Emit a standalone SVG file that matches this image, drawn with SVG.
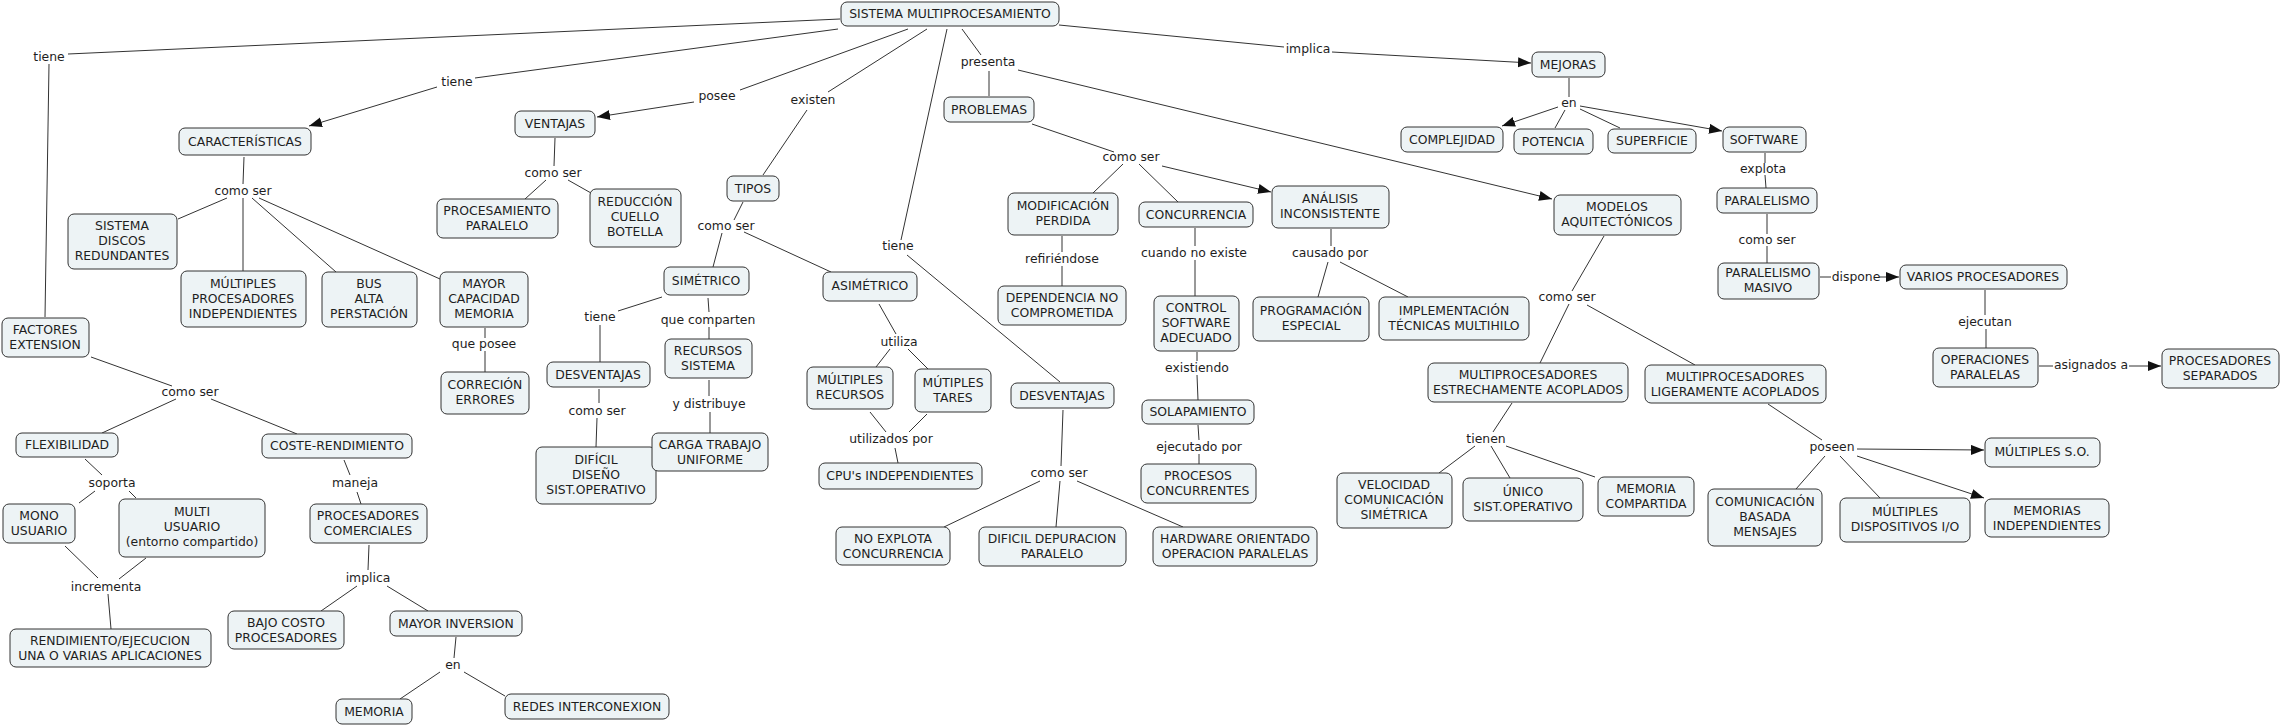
<svg xmlns="http://www.w3.org/2000/svg" width="2281" height="726" viewBox="0 0 2281 726">
<defs>
<style>
.n rect{fill:#edf3f5;stroke:#333;stroke-width:1}
text{font-family:"DejaVu Sans","Liberation Sans",sans-serif;font-size:12.4px;fill:#1e1e1e;text-anchor:middle}
#connectors line{stroke:#333;stroke-width:1;fill:none}
#connectors line.a{marker-end:url(#arr)}
</style>
<marker id="arr" markerUnits="userSpaceOnUse" markerWidth="14" markerHeight="12" refX="13" refY="5" orient="auto"><path d="M0,0 L13,5 L0,10 z" fill="#111"/></marker>
</defs>
<rect width="2281" height="726" fill="#fff"/>
<g id="connectors">
<line x1="68" y1="54" x2="840" y2="19"/>
<line x1="49" y1="64" x2="45" y2="317"/>
<line x1="475" y1="78" x2="838" y2="29"/>
<line class="a" x1="437" y1="87" x2="309" y2="126"/>
<line x1="908" y1="29" x2="740" y2="90"/>
<line class="a" x1="694" y1="102" x2="597" y2="117"/>
<line x1="927" y1="29" x2="828" y2="92"/>
<line x1="807" y1="110" x2="763" y2="175"/>
<line x1="947" y1="29" x2="901" y2="240"/>
<line x1="907" y1="255" x2="1060" y2="382"/>
<line x1="962" y1="29" x2="981" y2="55"/>
<line x1="989" y1="71" x2="989" y2="96"/>
<line class="a" x1="1018" y1="70" x2="1552" y2="199"/>
<line x1="1059" y1="25" x2="1284" y2="47"/>
<line class="a" x1="1332" y1="52" x2="1531" y2="63"/>
<line x1="1569" y1="78" x2="1569" y2="97"/>
<line class="a" x1="1558" y1="107" x2="1502" y2="126"/>
<line x1="1565" y1="110" x2="1555" y2="128"/>
<line x1="1580" y1="109" x2="1620" y2="128"/>
<line class="a" x1="1580" y1="106" x2="1722" y2="131"/>
<line x1="1765" y1="153" x2="1765" y2="163"/>
<line x1="1765" y1="175" x2="1766" y2="188"/>
<line x1="1767" y1="214" x2="1767" y2="234"/>
<line x1="1767" y1="246" x2="1767" y2="263"/>
<line x1="1820" y1="277" x2="1831" y2="277"/>
<line class="a" x1="1879" y1="277" x2="1899" y2="277"/>
<line x1="1985" y1="290" x2="1985" y2="315"/>
<line x1="1986" y1="329" x2="1986" y2="348"/>
<line x1="2039" y1="366" x2="2053" y2="366"/>
<line class="a" x1="2129" y1="366" x2="2161" y2="366"/>
<line x1="244" y1="157" x2="243" y2="184"/>
<line x1="227" y1="198" x2="178" y2="219"/>
<line x1="243" y1="198" x2="243" y2="271"/>
<line x1="252" y1="198" x2="336" y2="272"/>
<line x1="259" y1="198" x2="440" y2="279"/>
<line x1="555" y1="138" x2="554" y2="166"/>
<line x1="546" y1="180" x2="525" y2="199"/>
<line x1="568" y1="180" x2="591" y2="193"/>
<line x1="743" y1="202" x2="734" y2="220"/>
<line x1="722" y1="233" x2="713" y2="267"/>
<line x1="744" y1="232" x2="831" y2="272"/>
<line x1="1032" y1="124" x2="1114" y2="152"/>
<line x1="1123" y1="164" x2="1093" y2="193"/>
<line x1="1139" y1="164" x2="1178" y2="202"/>
<line class="a" x1="1162" y1="166" x2="1271" y2="192"/>
<line x1="1062" y1="236" x2="1062" y2="252"/>
<line x1="1062" y1="266" x2="1062" y2="286"/>
<line x1="1195" y1="228" x2="1195" y2="246"/>
<line x1="1195" y1="260" x2="1195" y2="296"/>
<line x1="1331" y1="229" x2="1331" y2="246"/>
<line x1="1328" y1="262" x2="1318" y2="297"/>
<line x1="1340" y1="262" x2="1408" y2="297"/>
<line x1="1197" y1="352" x2="1197" y2="361"/>
<line x1="1197" y1="375" x2="1198" y2="400"/>
<line x1="1198" y1="425" x2="1199" y2="440"/>
<line x1="1199" y1="454" x2="1199" y2="464"/>
<line x1="1604" y1="236" x2="1572" y2="291"/>
<line x1="1569" y1="304" x2="1540" y2="363"/>
<line x1="1587" y1="305" x2="1695" y2="365"/>
<line x1="1512" y1="403" x2="1493" y2="432"/>
<line x1="1475" y1="446" x2="1439" y2="473"/>
<line x1="1491" y1="446" x2="1510" y2="478"/>
<line x1="1506" y1="446" x2="1595" y2="477"/>
<line x1="1768" y1="404" x2="1822" y2="440"/>
<line class="a" x1="1857" y1="449" x2="1984" y2="450"/>
<line x1="1825" y1="456" x2="1796" y2="489"/>
<line x1="1840" y1="456" x2="1880" y2="498"/>
<line class="a" x1="1857" y1="456" x2="1984" y2="498"/>
<line x1="485" y1="328" x2="485" y2="338"/>
<line x1="485" y1="351" x2="485" y2="372"/>
<line x1="91" y1="357" x2="172" y2="386"/>
<line x1="176" y1="399" x2="102" y2="433"/>
<line x1="211" y1="399" x2="297" y2="434"/>
<line x1="85" y1="459" x2="102" y2="475"/>
<line x1="95" y1="491" x2="79" y2="503"/>
<line x1="129" y1="491" x2="136" y2="498"/>
<line x1="65" y1="546" x2="98" y2="578"/>
<line x1="146" y1="558" x2="119" y2="579"/>
<line x1="108" y1="594" x2="111" y2="629"/>
<line x1="344" y1="460" x2="350" y2="475"/>
<line x1="357" y1="492" x2="361" y2="504"/>
<line x1="369" y1="545" x2="368" y2="570"/>
<line x1="357" y1="586" x2="321" y2="611"/>
<line x1="387" y1="586" x2="428" y2="611"/>
<line x1="456" y1="637" x2="454" y2="658"/>
<line x1="440" y1="672" x2="400" y2="699"/>
<line x1="464" y1="672" x2="505" y2="696"/>
<line x1="662" y1="297" x2="618" y2="311"/>
<line x1="600" y1="325" x2="600" y2="362"/>
<line x1="599" y1="389" x2="599" y2="403"/>
<line x1="597" y1="418" x2="596" y2="447"/>
<line x1="708" y1="298" x2="709" y2="312"/>
<line x1="709" y1="327" x2="709" y2="339"/>
<line x1="709" y1="380" x2="709" y2="396"/>
<line x1="710" y1="412" x2="710" y2="433"/>
<line x1="879" y1="304" x2="896" y2="334"/>
<line x1="890" y1="349" x2="876" y2="367"/>
<line x1="908" y1="349" x2="928" y2="369"/>
<line x1="870" y1="412" x2="886" y2="432"/>
<line x1="927" y1="414" x2="909" y2="432"/>
<line x1="895" y1="448" x2="898" y2="463"/>
<line x1="1063" y1="410" x2="1061" y2="466"/>
<line x1="1040" y1="481" x2="944" y2="527"/>
<line x1="1060" y1="481" x2="1056" y2="527"/>
<line x1="1077" y1="481" x2="1183" y2="527"/>
</g>
<g id="labels">
<text x="49" y="61">tiene</text>
<text x="457" y="86">tiene</text>
<text x="717" y="100">posee</text>
<text x="813" y="104">existen</text>
<text x="898" y="250">tiene</text>
<text x="988" y="66">presenta</text>
<text x="1308" y="53">implica</text>
<text x="1569" y="107">en</text>
<text x="1763" y="173">explota</text>
<text x="1767" y="244">como ser</text>
<text x="1856" y="281">dispone</text>
<text x="1985" y="326">ejecutan</text>
<text x="2091" y="369">asignados a</text>
<text x="243" y="195">como ser</text>
<text x="553" y="177">como ser</text>
<text x="726" y="230">como ser</text>
<text x="1131" y="161">como ser</text>
<text x="1194" y="257">cuando no existe</text>
<text x="1330" y="257">causado por</text>
<text x="1197" y="372">existiendo</text>
<text x="1199" y="451">ejecutado por</text>
<text x="1062" y="263">refiriéndose</text>
<text x="1567" y="301">como ser</text>
<text x="1486" y="443">tienen</text>
<text x="1832" y="451">poseen</text>
<text x="484" y="348">que posee</text>
<text x="190" y="396">como ser</text>
<text x="112" y="487">soporta</text>
<text x="355" y="487">maneja</text>
<text x="106" y="591">incrementa</text>
<text x="368" y="582">implica</text>
<text x="453" y="669">en</text>
<text x="600" y="321">tiene</text>
<text x="708" y="324">que comparten</text>
<text x="709" y="408">y distribuye</text>
<text x="597" y="415">como ser</text>
<text x="899" y="346">utiliza</text>
<text x="891" y="443">utilizados por</text>
<text x="1059" y="477">como ser</text>
</g>
<g id="n1" class="n"><rect x="841" y="2" width="218" height="24" rx="6"/><text x="950" y="18">SISTEMA MULTIPROCESAMIENTO</text></g>
<g id="n2" class="n"><rect x="179" y="128" width="132" height="27" rx="6"/><text x="245" y="146">CARACTERÍSTICAS</text></g>
<g id="n3" class="n"><rect x="515" y="111" width="80" height="26" rx="6"/><text x="555" y="128">VENTAJAS</text></g>
<g id="n4" class="n"><rect x="727" y="176" width="52" height="25" rx="6"/><text x="753" y="193">TIPOS</text></g>
<g id="n5" class="n"><rect x="944" y="97" width="90" height="25" rx="6"/><text x="989" y="114">PROBLEMAS</text></g>
<g id="n6" class="n"><rect x="1532" y="52" width="73" height="25" rx="6"/><text x="1568" y="69">MEJORAS</text></g>
<g id="n7" class="n"><rect x="1401" y="127" width="102" height="25" rx="6"/><text x="1452" y="144">COMPLEJIDAD</text></g>
<g id="n8" class="n"><rect x="1514" y="129" width="79" height="25" rx="6"/><text x="1553" y="146">POTENCIA</text></g>
<g id="n9" class="n"><rect x="1608" y="129" width="88" height="24" rx="6"/><text x="1652" y="145">SUPERFICIE</text></g>
<g id="n10" class="n"><rect x="1723" y="127" width="83" height="25" rx="6"/><text x="1764" y="144">SOFTWARE</text></g>
<g id="n11" class="n"><rect x="1717" y="188" width="100" height="25" rx="6"/><text x="1767" y="205">PARALELISMO</text></g>
<g id="n12" class="n"><rect x="1718" y="263" width="101" height="36" rx="6"/><text x="1768" y="277">PARALELISMO</text><text x="1768" y="292">MASIVO</text></g>
<g id="n13" class="n"><rect x="1900" y="265" width="167" height="24" rx="6"/><text x="1983" y="281">VARIOS PROCESADORES</text></g>
<g id="n14" class="n"><rect x="1933" y="348" width="105" height="39" rx="6"/><text x="1985" y="364">OPERACIONES</text><text x="1985" y="379">PARALELAS</text></g>
<g id="n15" class="n"><rect x="2162" y="349" width="117" height="39" rx="6"/><text x="2220" y="365">PROCESADORES</text><text x="2220" y="380">SEPARADOS</text></g>
<g id="n16" class="n"><rect x="1554" y="195" width="127" height="40" rx="6"/><text x="1617" y="211">MODELOS</text><text x="1617" y="226">AQUITECTÓNICOS</text></g>
<g id="n17" class="n"><rect x="1428" y="363" width="200" height="39" rx="6"/><text x="1528" y="379">MULTIPROCESADORES</text><text x="1528" y="394">ESTRECHAMENTE ACOPLADOS</text></g>
<g id="n18" class="n"><rect x="1645" y="365" width="181" height="38" rx="6"/><text x="1735" y="381">MULTIPROCESADORES</text><text x="1735" y="396">LIGERAMENTE ACOPLADOS</text></g>
<g id="n19" class="n"><rect x="1337" y="473" width="115" height="55" rx="6"/><text x="1394" y="489">VELOCIDAD</text><text x="1394" y="504">COMUNICACIÓN</text><text x="1394" y="519">SIMÉTRICA</text></g>
<g id="n20" class="n"><rect x="1463" y="478" width="120" height="43" rx="6"/><text x="1523" y="496">ÚNICO</text><text x="1523" y="511">SIST.OPERATIVO</text></g>
<g id="n21" class="n"><rect x="1598" y="477" width="96" height="39" rx="6"/><text x="1646" y="493">MEMORIA</text><text x="1646" y="508">COMPARTIDA</text></g>
<g id="n22" class="n"><rect x="1985" y="438" width="115" height="29" rx="6"/><text x="2042" y="456">MÚLTIPLES S.O.</text></g>
<g id="n23" class="n"><rect x="1708" y="489" width="114" height="57" rx="6"/><text x="1765" y="506">COMUNICACIÓN</text><text x="1765" y="521">BASADA</text><text x="1765" y="536">MENSAJES</text></g>
<g id="n24" class="n"><rect x="1840" y="498" width="130" height="44" rx="6"/><text x="1905" y="516">MÚLTIPLES</text><text x="1905" y="531">DISPOSITIVOS I/O</text></g>
<g id="n25" class="n"><rect x="1985" y="499" width="124" height="38" rx="6"/><text x="2047" y="515">MEMORIAS</text><text x="2047" y="530">INDEPENDIENTES</text></g>
<g id="n26" class="n"><rect x="1008" y="193" width="110" height="42" rx="6"/><text x="1063" y="210">MODIFICACIÓN</text><text x="1063" y="225">PERDIDA</text></g>
<g id="n27" class="n"><rect x="1139" y="202" width="114" height="25" rx="6"/><text x="1196" y="219">CONCURRENCIA</text></g>
<g id="n28" class="n"><rect x="1272" y="186" width="117" height="42" rx="6"/><text x="1330" y="203">ANÁLISIS</text><text x="1330" y="218">INCONSISTENTE</text></g>
<g id="n29" class="n"><rect x="998" y="286" width="128" height="39" rx="6"/><text x="1062" y="302">DEPENDENCIA NO</text><text x="1062" y="317">COMPROMETIDA</text></g>
<g id="n30" class="n"><rect x="1154" y="296" width="85" height="55" rx="6"/><text x="1196" y="312">CONTROL</text><text x="1196" y="327">SOFTWARE</text><text x="1196" y="342">ADECUADO</text></g>
<g id="n31" class="n"><rect x="1253" y="297" width="116" height="44" rx="6"/><text x="1311" y="315">PROGRAMACIÓN</text><text x="1311" y="330">ESPECIAL</text></g>
<g id="n32" class="n"><rect x="1379" y="297" width="150" height="43" rx="6"/><text x="1454" y="315">IMPLEMENTACIÓN</text><text x="1454" y="330">TÉCNICAS MULTIHILO</text></g>
<g id="n33" class="n"><rect x="1142" y="400" width="112" height="24" rx="6"/><text x="1198" y="416">SOLAPAMIENTO</text></g>
<g id="n34" class="n"><rect x="1141" y="464" width="115" height="39" rx="6"/><text x="1198" y="480">PROCESOS</text><text x="1198" y="495">CONCURRENTES</text></g>
<g id="n35" class="n"><rect x="664" y="267" width="85" height="28" rx="6"/><text x="706" y="285">SIMÉTRICO</text></g>
<g id="n36" class="n"><rect x="823" y="272" width="94" height="29" rx="6"/><text x="870" y="290">ASIMÉTRICO</text></g>
<g id="n37" class="n"><rect x="547" y="362" width="103" height="25" rx="6"/><text x="598" y="379">DESVENTAJAS</text></g>
<g id="n38" class="n"><rect x="665" y="339" width="87" height="39" rx="6"/><text x="708" y="355">RECURSOS</text><text x="708" y="370">SISTEMA</text></g>
<g id="n39" class="n"><rect x="536" y="447" width="120" height="57" rx="6"/><text x="596" y="464">DIFÍCIL</text><text x="596" y="479">DISEÑO</text><text x="596" y="494">SIST.OPERATIVO</text></g>
<g id="n40" class="n"><rect x="652" y="433" width="116" height="38" rx="6"/><text x="710" y="449">CARGA TRABAJO</text><text x="710" y="464">UNIFORME</text></g>
<g id="n41" class="n"><rect x="807" y="367" width="86" height="42" rx="6"/><text x="850" y="384">MÚLTIPLES</text><text x="850" y="399">RECURSOS</text></g>
<g id="n42" class="n"><rect x="915" y="369" width="76" height="43" rx="6"/><text x="953" y="387">MÚTIPLES</text><text x="953" y="402">TARES</text></g>
<g id="n43" class="n"><rect x="819" y="463" width="163" height="26" rx="6"/><text x="900" y="480">CPU's INDEPENDIENTES</text></g>
<g id="n44" class="n"><rect x="1011" y="383" width="103" height="25" rx="6"/><text x="1062" y="400">DESVENTAJAS</text></g>
<g id="n45" class="n"><rect x="836" y="527" width="114" height="38" rx="6"/><text x="893" y="543">NO EXPLOTA</text><text x="893" y="558">CONCURRENCIA</text></g>
<g id="n46" class="n"><rect x="979" y="527" width="147" height="39" rx="6"/><text x="1052" y="543">DIFICIL DEPURACION</text><text x="1052" y="558">PARALELO</text></g>
<g id="n47" class="n"><rect x="1153" y="527" width="164" height="39" rx="6"/><text x="1235" y="543">HARDWARE ORIENTADO</text><text x="1235" y="558">OPERACION PARALELAS</text></g>
<g id="n48" class="n"><rect x="437" y="199" width="121" height="39" rx="6"/><text x="497" y="215">PROCESAMIENTO</text><text x="497" y="230">PARALELO</text></g>
<g id="n49" class="n"><rect x="590" y="189" width="91" height="58" rx="6"/><text x="635" y="206">REDUCCIÓN</text><text x="635" y="221">CUELLO</text><text x="635" y="236">BOTELLA</text></g>
<g id="n50" class="n"><rect x="68" y="214" width="109" height="55" rx="6"/><text x="122" y="230">SISTEMA</text><text x="122" y="245">DISCOS</text><text x="122" y="260">REDUNDANTES</text></g>
<g id="n51" class="n"><rect x="181" y="271" width="125" height="56" rx="6"/><text x="243" y="288">MÚLTIPLES</text><text x="243" y="303">PROCESADORES</text><text x="243" y="318">INDEPENDIENTES</text></g>
<g id="n52" class="n"><rect x="322" y="272" width="95" height="55" rx="6"/><text x="369" y="288">BUS</text><text x="369" y="303">ALTA</text><text x="369" y="318">PERSTACIÓN</text></g>
<g id="n53" class="n"><rect x="440" y="272" width="88" height="55" rx="6"/><text x="484" y="288">MAYOR</text><text x="484" y="303">CAPACIDAD</text><text x="484" y="318">MEMORIA</text></g>
<g id="n54" class="n"><rect x="441" y="372" width="88" height="42" rx="6"/><text x="485" y="389">CORRECIÓN</text><text x="485" y="404">ERRORES</text></g>
<g id="n55" class="n"><rect x="2" y="318" width="87" height="39" rx="6"/><text x="45" y="334">FACTORES</text><text x="45" y="349">EXTENSION</text></g>
<g id="n56" class="n"><rect x="16" y="433" width="102" height="24" rx="6"/><text x="67" y="449">FLEXIBILIDAD</text></g>
<g id="n57" class="n"><rect x="262" y="434" width="150" height="24" rx="6"/><text x="337" y="450">COSTE-RENDIMIENTO</text></g>
<g id="n58" class="n"><rect x="3" y="504" width="72" height="39" rx="6"/><text x="39" y="520">MONO</text><text x="39" y="535">USUARIO</text></g>
<g id="n59" class="n"><rect x="119" y="499" width="146" height="58" rx="6"/><text x="192" y="516">MULTI</text><text x="192" y="531">USUARIO</text><text x="192" y="546">(entorno compartido)</text></g>
<g id="n60" class="n"><rect x="10" y="629" width="201" height="38" rx="6"/><text x="110" y="645">RENDIMIENTO/EJECUCION</text><text x="110" y="660">UNA O VARIAS APLICACIONES</text></g>
<g id="n61" class="n"><rect x="310" y="504" width="117" height="39" rx="6"/><text x="368" y="520">PROCESADORES</text><text x="368" y="535">COMERCIALES</text></g>
<g id="n62" class="n"><rect x="228" y="611" width="116" height="38" rx="6"/><text x="286" y="627">BAJO COSTO</text><text x="286" y="642">PROCESADORES</text></g>
<g id="n63" class="n"><rect x="390" y="611" width="132" height="25" rx="6"/><text x="456" y="628">MAYOR INVERSION</text></g>
<g id="n64" class="n"><rect x="336" y="699" width="76" height="25" rx="6"/><text x="374" y="716">MEMORIA</text></g>
<g id="n65" class="n"><rect x="505" y="694" width="164" height="25" rx="6"/><text x="587" y="711">REDES INTERCONEXION</text></g>
</svg>
